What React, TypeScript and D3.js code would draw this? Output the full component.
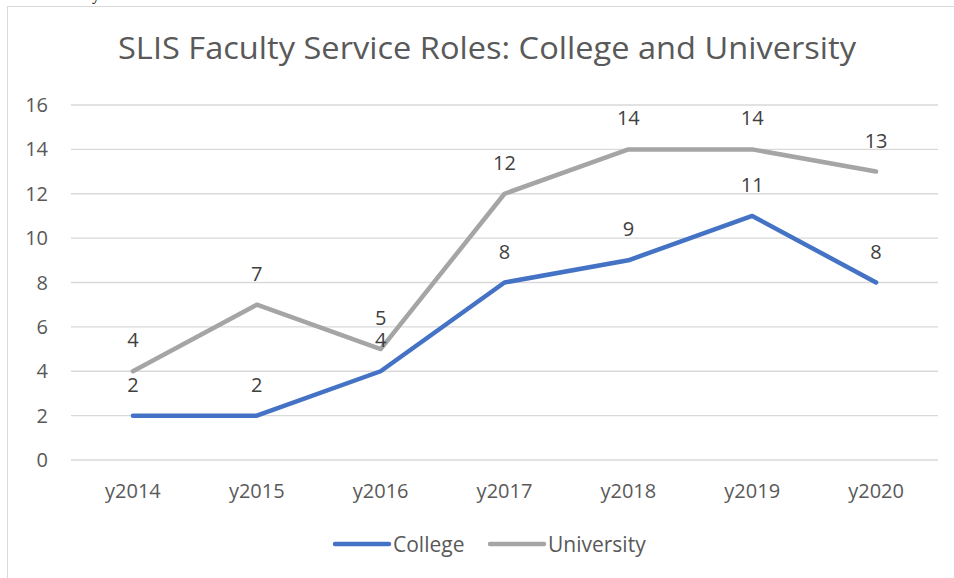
import { useEffect, useRef } from "react";
import * as d3 from "d3";

const years = ["y2014", "y2015", "y2016", "y2017", "y2018", "y2019", "y2020"];
const college = [2, 2, 4, 8, 9, 11, 8];
const university = [4, 7, 5, 12, 14, 14, 13];
const yTicks = [0, 2, 4, 6, 8, 10, 12, 14, 16];

const series = [
  { name: "College", values: college, color: "#4472C4" },
  { name: "University", values: university, color: "#A5A5A5" },
];

export default function App() {
  const ref = useRef<SVGSVGElement>(null);

  useEffect(() => {
    const svg = d3.select(ref.current);
    svg.selectAll("*").remove();
    const font = "'Open Sans', sans-serif";

    // chart frame (runs off the right and bottom of the page)
    svg
      .append("rect")
      .attr("x", 7.5)
      .attr("y", 6.5)
      .attr("width", 960)
      .attr("height", 600)
      .attr("fill", "white")
      .attr("stroke", "#D9D9D9")
      .attr("stroke-width", 1);

    // stray glyph from the document above
    svg
      .append("text")
      .attr("x", 92)
      .attr("y", 0)
      .style("font-family", "'Liberation Serif', serif")
      .style("font-size", "16px")
      .attr("fill", "black")
      .text("y");

    const x = d3.scaleBand().domain(years).range([71, 938]);
    const y = d3.scaleLinear().domain([0, 16]).range([460, 105]);

    // gridlines
    svg
      .append("g")
      .selectAll("line")
      .data(yTicks)
      .join("line")
      .attr("x1", 71)
      .attr("x2", 938)
      .attr("y1", (d) => y(d))
      .attr("y2", (d) => y(d))
      .attr("stroke", "#D9D9D9")
      .attr("stroke-width", 1.3);

    // y labels
    svg
      .append("g")
      .selectAll("text")
      .data(yTicks)
      .join("text")
      .attr("x", 48)
      .attr("y", (d) => y(d) + 7)
      .attr("text-anchor", "end")
      .style("font-family", font)
      .style("font-size", "20px")
      .attr("fill", "#595959")
      .text((d) => d);

    // x labels
    svg
      .append("g")
      .selectAll("text")
      .data(years)
      .join("text")
      .attr("x", (d) => x(d)! + x.bandwidth() / 2)
      .attr("y", 498)
      .attr("text-anchor", "middle")
      .style("font-family", font)
      .style("font-size", "20px")
      .attr("fill", "#595959")
      .text((d) => d);

    const line = d3
      .line<number>()
      .x((_, i) => x(years[i])! + x.bandwidth() / 2)
      .y((d) => y(d));

    series.forEach((s) => {
      svg
        .append("path")
        .attr("d", line(s.values))
        .attr("fill", "none")
        .attr("stroke", s.color)
        .attr("stroke-width", 4.5)
        .attr("stroke-linejoin", "round")
        .attr("stroke-linecap", "round");
    });

    // data labels above each point
    series.forEach((s) => {
      svg
        .append("g")
        .selectAll("text")
        .data(s.values)
        .join("text")
        .attr("x", (_, i) => x(years[i])! + x.bandwidth() / 2)
        .attr("y", (d) => y(d) - 24)
        .attr("text-anchor", "middle")
        .style("font-family", font)
        .style("font-size", "20px")
        .attr("fill", "#404040")
        .text((d) => d);
    });

    // title
    svg
      .append("text")
      .attr("x", 487)
      .attr("y", 59)
      .attr("text-anchor", "middle")
      .attr("textLength", 738)
      .attr("lengthAdjust", "spacingAndGlyphs")
      .style("font-family", font)
      .style("font-size", "31px")
      .attr("fill", "#595959")
      .text("SLIS Faculty Service Roles: College and University");

    // legend
    const legendPos = [334, 489];
    series.forEach((s, i) => {
      const g = svg.append("g").attr("transform", `translate(${legendPos[i]},544)`);
      g.append("line")
        .attr("x1", 1)
        .attr("x2", 55)
        .attr("stroke", s.color)
        .attr("stroke-width", 4.5)
        .attr("stroke-linecap", "round");
      g.append("text")
        .attr("x", 59)
        .attr("y", 7.5)
        .style("font-family", font)
        .style("font-size", "21px")
        .attr("fill", "#595959")
        .text(s.name);
    });
  }, []);

  return (
    <svg
      ref={ref}
      width={954}
      height={578}
      style={{ position: "absolute", left: 0, top: 0 }}
    />
  );
}
